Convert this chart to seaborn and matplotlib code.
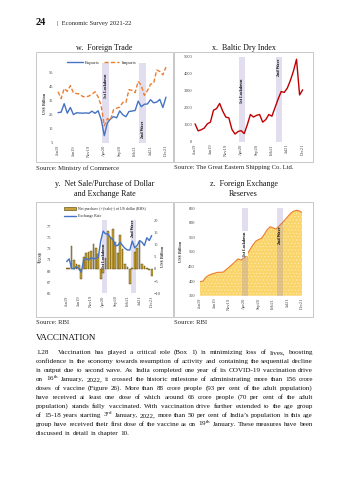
import numpy as np
import pandas as pd
import matplotlib
matplotlib.use("Agg")
import matplotlib.pyplot as plt
import seaborn as sns
from matplotlib.patches import Rectangle, Patch
from matplotlib.lines import Line2D

sns.set_theme(style="white")
plt.rcParams['font.family'] = ['Liberation Serif', 'DejaVu Serif', 'DejaVu Sans']
plt.rcParams['mathtext.fontset'] = 'custom'
plt.rcParams['mathtext.rm'] = 'Liberation Serif'
plt.rcParams['mathtext.it'] = 'Liberation Serif:italic'
plt.rcParams['mathtext.bf'] = 'Liberation Serif:bold'
plt.rcParams['hatch.linewidth'] = 0.3

# ---------------- data ----------------
months = ["Jan19", "Feb19", "Mar19", "Apr19", "May19", "Jun19", "Jul19", "Aug19", "Sep19", "Oct19", "Nov19", "Dec19",
          "Jan20", "Feb20", "Mar20", "Apr20", "May20", "Jun20", "Jul20", "Aug20", "Sep20", "Oct20", "Nov20", "Dec20",
          "Jan21", "Feb21", "Mar21", "Apr21", "May21", "Jun21", "Jul21", "Aug21", "Sep21", "Oct21", "Nov21", "Dec21"]
tick_labels = ["Jan19", "Jun19", "Nov19", "Apr20", "Sep20", "Feb21", "Jul21", "Dec21"]

exports = [26.4, 26.7, 32.7, 26.0, 30.0, 25.0, 26.3, 26.1, 26.0, 26.2, 25.9, 27.4,
           25.9, 27.7, 21.5, 10.2, 19.2, 21.9, 23.6, 22.7, 27.6, 24.9, 23.5, 27.2,
           27.5, 27.9, 34.5, 30.6, 32.3, 32.5, 35.5, 33.3, 33.8, 35.7, 30.0, 37.3]
imports = [41.1, 36.3, 43.4, 41.4, 45.4, 40.3, 39.8, 39.6, 37.7, 37.4, 38.1, 39.4,
           41.1, 37.5, 31.2, 17.1, 22.2, 21.1, 28.5, 29.5, 30.3, 33.6, 33.4, 42.6,
           42.0, 40.5, 48.4, 45.5, 38.6, 41.9, 46.4, 47.1, 56.4, 55.4, 53.0, 58.5]
baltic = [1050, 640, 700, 800, 1050, 1150, 1850, 1950, 2250, 1800, 1450, 1400,
          720, 450, 600, 650, 480, 1000, 1600, 1450, 1550, 1600, 1150, 1300,
          1600, 1500, 2000, 2500, 2950, 2900, 3150, 3600, 4150, 4850, 2750, 3050]
exchange_rate = [70.7, 71.2, 69.5, 69.4, 69.8, 69.4, 68.8, 71.0, 71.3, 71.0, 71.4, 71.2,
                 71.3, 71.5, 74.4, 76.2, 75.7, 75.7, 75.0, 74.7, 73.6, 73.6, 74.2, 73.6,
                 73.1, 72.8, 72.8, 74.4, 73.2, 73.6, 74.5, 74.2, 73.6, 75.0, 74.5, 75.4]
net_purchase = [0.3, 0.5, 9.5, 3.5, 2.0, 1.5, -4.0, 5.0, 6.5, 7.0, 7.5, 10.0,
                8.5, 6.0, -4.0, -1.5, 4.5, 15.5, 13.0, 16.5, 11.0, 6.5, 14.0, 8.0,
                2.0, 0.8, -6.0, 0.5, 7.0, 8.5, 11.0, 2.0, 1.0, 0.3, -0.5, -3.0]
fx_reserves = [398, 400, 413, 420, 424, 427, 430, 430, 431, 440, 448, 457,
               466, 476, 472, 478, 490, 506, 522, 536, 542, 546, 560, 576,
               586, 582, 578, 588, 598, 609, 620, 632, 639, 642, 640, 634]

band_spans = [(14.4, 16.4), (26.4, 28.4)]
band_names = ["1st Lockdown", "2nd Wave"]

idx = list(range(len(months)))
tick_pos = [months.index(t) for t in tick_labels]

# ---------------- figure ----------------
W, H = 349, 480
fig = plt.figure(figsize=(W / 100, H / 100), dpi=100)
fig.patch.set_facecolor('white')


def add_ax(x0, y0, x1, y1):
    return fig.add_axes([x0 / W, 1 - y1 / H, (x1 - x0) / W, (y1 - y0) / H])


def ftext(x, y, s, **kw):
    return fig.text(x / W, 1 - y / H, s, **kw)


def frame(x0, y0, x1, y1):
    fig.add_artist(Rectangle((x0 / W, 1 - y1 / H), (x1 - x0) / W, (y1 - y0) / H,
                             transform=fig.transFigure, fill=False,
                             edgecolor='#BFBFBF', linewidth=0.6))


BAND_C = '#8E7CC3'
BAND_A = 0.25
TXT = '#404040'
TICK_FS = 3.2


def style(ax, ypad, xpad=1.5):
    for s in ax.spines.values():
        s.set_visible(False)
    ax.grid(False)
    ax.set_facecolor('none')
    ax.tick_params(axis='both', length=0, labelsize=TICK_FS, labelcolor=TXT)
    ax.tick_params(axis='y', pad=ypad)
    ax.tick_params(axis='x', pad=xpad)
    ax.set_xticks(tick_pos)
    ax.set_xticklabels(tick_labels, rotation=90)
    ax.set_xlabel('')
    ax.set_ylabel('')


def bands(ax, z=0):
    for a, b in band_spans:
        ax.axvspan(a, b, color=BAND_C, alpha=BAND_A, lw=0, zorder=z)


def band_text(ax, x, y, s, **kw):
    ax.text(x, y, s, rotation=90, ha='center', va='center', fontsize=3.0,
            fontweight='bold', color='black', zorder=6, **kw)


# ---------------- header ----------------
ftext(36, 25, "24", fontsize=7.5, fontweight='bold', va='baseline', color='#111111')
ftext(57, 25, "|  Economic Survey 2021-22", fontsize=4.7, va='baseline', color='#222222')

# ---------------- chart w ----------------
frame(36, 52, 173, 162)
ftext(104.5, 48, "w.  Foreign Trade", fontsize=5.8, ha='center', va='center', color='#111111')
ax_w = add_ax(56.5, 63.5, 167.5, 143)
bands(ax_w)
sns.lineplot(x=idx, y=exports, ax=ax_w, color='#4472C4', lw=1.0, label='Exports')
sns.lineplot(x=idx, y=imports, ax=ax_w, color='#ED7D31', lw=1.0, dashes=(3, 1.6), label='Imports')
style(ax_w, ypad=2.5)
ax_w.set_xlim(-0.5, 35.5)
ax_w.set_ylim(5, 61)
ax_w.set_yticks([5, 15, 25, 35, 45, 55])
ax_w.set_ylabel("US$ Billion", fontsize=3.2, fontweight='bold', color=TXT)
ax_w.yaxis.set_label_coords((47 - 56.5) / 111, 0.5)
band_text(ax_w, sum(band_spans[0]) / 2, 45.5, band_names[0])
band_text(ax_w, sum(band_spans[1]) / 2, 15, band_names[1])
ax_w.legend(loc='center', bbox_to_anchor=(102 / W, 1 - 62.5 / H), bbox_transform=fig.transFigure,
            ncol=2, frameon=False, fontsize=3.4, handlelength=3.2, columnspacing=0.8,
            handletextpad=0.6, borderpad=0)
ftext(36, 168, "Source: Ministry of Commerce", fontsize=4.8, va='center', color='#222222')

# ---------------- chart x ----------------
frame(174, 52, 313, 162)
ftext(243.5, 48, "x.  Baltic Dry Index", fontsize=5.8, ha='center', va='center', color='#111111')
ax_x = add_ax(193.5, 56.7, 304.2, 141.7)
bands(ax_x)
sns.lineplot(x=idx, y=baltic, ax=ax_x, color='#C00000', lw=1.0)
style(ax_x, ypad=1.0)
ax_x.set_xlim(-0.5, 35.5)
ax_x.set_ylim(0, 5000)
ax_x.set_yticks([0, 1000, 2000, 3000, 4000, 5000])
band_text(ax_x, sum(band_spans[0]) / 2, 3000, band_names[0])
band_text(ax_x, sum(band_spans[1]) / 2, 4350, band_names[1])
ftext(174, 168, "Source: The Great Eastern Shipping Co. Ltd.", fontsize=4.8, va='center', color='#222222')

# ---------------- chart y ----------------
frame(36, 202, 173, 317)
ftext(104.5, 184, "y.  Net Sale/Purchase of Dollar", fontsize=5.8, ha='center', va='center', color='#111111')
ftext(104.5, 193.5, "and Exchange Rate", fontsize=5.8, ha='center', va='center', color='#111111')
ax_b = add_ax(65.5, 220, 152.9, 293.3)
bands(ax_b)
sns.barplot(x=idx, y=net_purchase, ax=ax_b, color='#C9A43A', saturation=1,
            edgecolor='#4D3B00', linewidth=0.3, width=0.72, zorder=2)
ax_l = ax_b.twinx()
sns.lineplot(x=idx, y=exchange_rate, ax=ax_l, color='#4472C4', lw=1.0)
style(ax_b, ypad=0.6)
ax_b.yaxis.tick_right()
ax_b.yaxis.set_label_position('right')
ax_b.set_xlim(-0.5, 35.5)
ax_b.set_ylim(-10, 20)
ax_b.set_yticks([-10, -5, 0, 5, 10, 15, 20])
for s in ax_l.spines.values():
    s.set_visible(False)
ax_l.grid(False)
ax_l.yaxis.tick_left()
ax_l.yaxis.set_label_position('left')
ax_l.tick_params(axis='y', length=0, labelsize=TICK_FS, labelcolor=TXT, pad=10.4)
ax_l.set_ylim(65, 78.2)
ax_l.set_yticks([65, 67, 69, 71, 73, 75, 77])
ax_l.set_xlim(-0.5, 35.5)
ax_l.set_ylabel("₹/US$", fontsize=3.2, fontweight='bold', color=TXT)
ax_l.yaxis.set_label_coords((43.3 - 65.5) / 87.4, 0.5)
ax_b.set_ylabel("US$ Billion", fontsize=3.2, fontweight='bold', color=TXT)
ax_b.yaxis.set_label_coords((160 - 65.5) / 87.4, 0.5)
band_text(ax_b, sum(band_spans[0]) / 2, 5.5, band_names[0])
band_text(ax_b, sum(band_spans[1]) / 2, 16.5, band_names[1])
leg_handles = [Patch(facecolor='#C9A43A', edgecolor='#4D3B00', linewidth=0.4),
               Line2D([0], [0], color='#4472C4', lw=1.0)]
ax_l.legend(leg_handles, ["Net purchase (+)/sale(-) of US dollar (RHS)", "Exchange Rate"],
            loc='upper left', bbox_to_anchor=(62 / W, 1 - 205 / H), bbox_transform=fig.transFigure,
            frameon=False, fontsize=2.8, handlelength=3.0, handleheight=0.5,
            handletextpad=0.6, labelspacing=0.9, borderpad=0)
ftext(36, 323, "Source: RBI", fontsize=4.8, va='center', color='#222222')

# ---------------- chart z ----------------
frame(174, 202, 313, 317)
ftext(243.5, 184, "z.  Foreign Exchange", fontsize=5.8, ha='center', va='center', color='#111111')
ftext(243.5, 193.5, "Reserves", fontsize=5.8, ha='center', va='center', color='#111111')
ax_z = add_ax(200, 208, 302.3, 295.7)
ax_z.fill_between(idx, 350, fx_reserves, facecolor='#F9D56B', edgecolor='none', zorder=1)
ax_z.fill_between(idx, 350, fx_reserves, facecolor='none', edgecolor='#FFF0C0', hatch='.....',
                  linewidth=0, zorder=1.5)
sns.lineplot(x=idx, y=fx_reserves, ax=ax_z, color='#ED7D31', lw=0.8, zorder=2)
bands(ax_z, z=3)
style(ax_z, ypad=3.6)
ax_z.set_xlim(0, 35)
ax_z.set_ylim(350, 650)
ax_z.set_yticks([350, 400, 450, 500, 550, 600, 650])
ax_z.set_ylabel("US$ Billion", fontsize=3.2, fontweight='bold', color=TXT)
ax_z.yaxis.set_label_coords((183 - 200) / 102.3, 0.5)
band_text(ax_z, sum(band_spans[0]) / 2, 528, band_names[0],
          bbox=dict(facecolor='white', edgecolor='none', pad=0.4))
band_text(ax_z, sum(band_spans[1]) / 2, 557, band_names[1])
ftext(174, 323, "Source: RBI", fontsize=4.8, va='center', color='#222222')

# ---------------- text body ----------------
ftext(36, 340, "VACCINATION", fontsize=6.5, va='baseline', color='#111111')

para_lines = [
    "Vaccination has played a critical role (Box 1) in minimizing loss of lives, boosting",
    "confidence in the economy towards resumption of activity and containing the sequential decline",
    "in output due to second wave. As India completed one year of its COVID-19 vaccination drive",
    "on 16$^{\\mathrm{th}}$ January, 2022, it crossed the historic milestone of administrating more than 156 crore",
    "doses of vaccine (Figure 26). More than 88 crore people (93 per cent of the adult population)",
    "have received at least one dose of which around 66 crore people (70 per cent of the adult",
    "population) stands fully vaccinated. With vaccination drive further extended to the age group",
    "of 15-18 years starting 3$^{\\mathrm{rd}}$ January, 2022, more than 50 per cent of India\u2019s population in this age",
    "group have received their first dose of the vaccine as on 19$^{\\mathrm{th}}$ January. These measures have been",
    "discussed in detail in chapter 10.",
]
X_L, X_R = 36, 313
renderer = fig.canvas.get_renderer()


def natural_width(s, fs):
    t = ftext(0, 0, s, fontsize=fs)
    w = t.get_window_extent(renderer).width
    t.remove()
    return w


# fit the body font so the fullest lines fill the column with near-normal spacing
REF_FS = 10.0
full_widths = []
for k, line in enumerate(para_lines[:-1]):
    avail = (X_R - X_L) - (22 if k == 0 else 0)
    full_widths.append(natural_width(line, REF_FS) / avail)
BODY_FS = REF_FS / max(full_widths) * 0.995

ftext(X_L, 354, "1.28", fontsize=BODY_FS, va='baseline', color='#111111')
space_w = natural_width("a a", BODY_FS) - natural_width("aa", BODY_FS)
for k, line in enumerate(para_lines):
    y = 354 + 9.0 * k
    x0 = X_L + 22 if k == 0 else X_L
    words = line.split(' ')
    texts = [ftext(0, y, w, fontsize=BODY_FS, va='baseline', color='#111111') for w in words]
    widths = [t.get_window_extent(renderer).width for t in texts]
    if k == len(para_lines) - 1:
        gap = space_w
    else:
        gap = (X_R - x0 - sum(widths)) / (len(words) - 1)
    x = x0
    for t, w in zip(texts, widths):
        t.set_position((x / W, 1 - y / H))
        x += w + gap

fig.savefig("out.png", dpi=100, facecolor='white')
